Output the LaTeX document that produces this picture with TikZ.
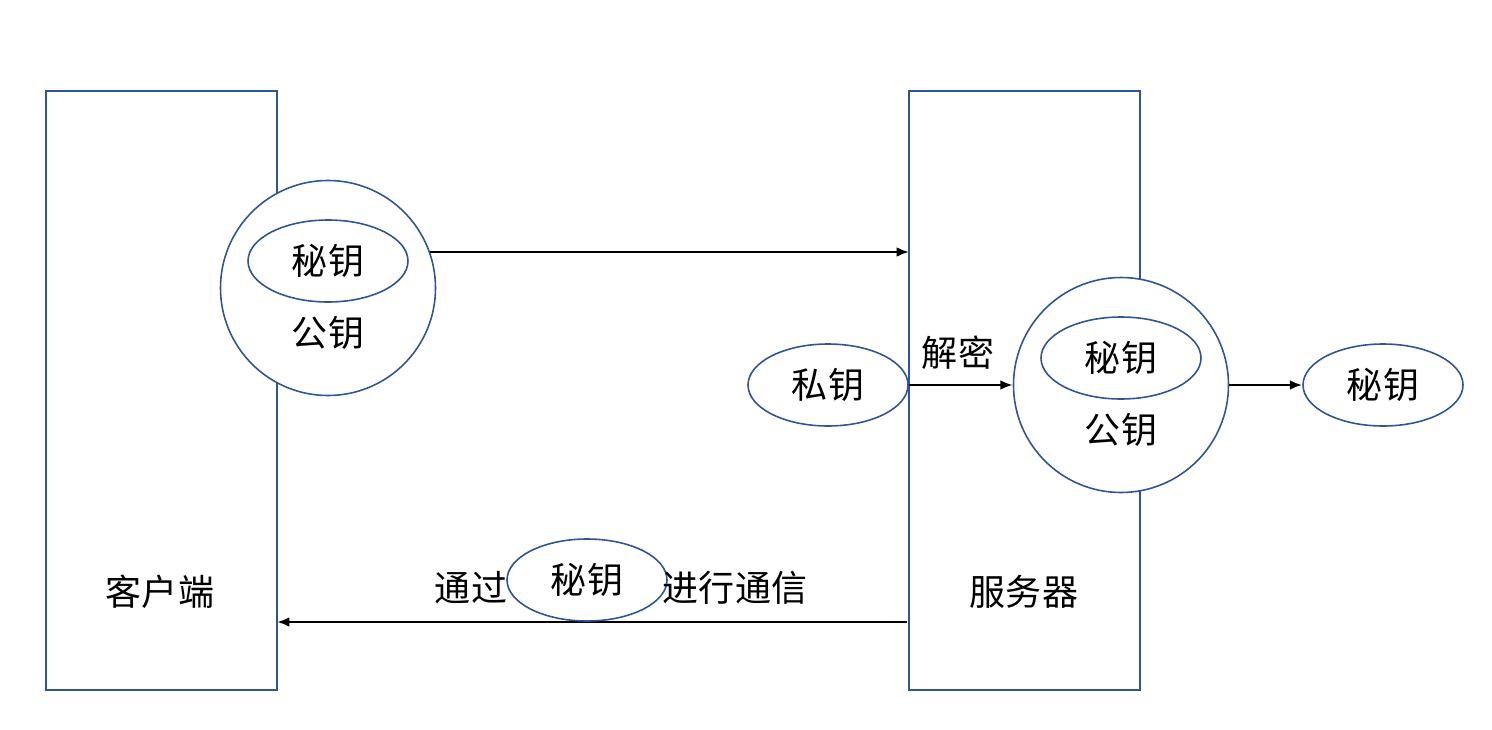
\documentclass[tikz,border=0pt]{standalone}
\usepackage{fontspec}
\newfontfamily\cjk{Noto Sans CJK SC}
\usetikzlibrary{shapes.geometric,arrows.meta}
\definecolor{bl}{HTML}{2F5597}
\begin{document}
\begin{tikzpicture}[x=0.02cm,y=-0.02cm,
  box/.style={draw=bl,line width=0.9pt,fill=white},
  el/.style={ellipse,draw=bl,line width=0.9pt,fill=white,minimum width=160*0.02cm,minimum height=82*0.02cm,inner sep=0pt},
  cir/.style={circle,draw=bl,line width=0.9pt,fill=white,minimum size=215*0.02cm,inner sep=0pt},
  txt/.style={font=\cjk\fontsize{20.5}{24}\selectfont},
  arr/.style={-{Latex[length=7pt,width=5.5pt]},line width=1.3pt}]
\useasboundingbox (0,0) rectangle (1492,730);
\draw[box] (46,91) rectangle (277,690);
\draw[box] (909,91) rectangle (1140,690);
\node[txt] (client) at (160,592) {客户端};
\node[txt] (server) at (1024,592) {服务器};
\node[cir] (c1) at (328,288) {};
\node[el,txt] (k1) at (328,261) {秘钥};
\node[txt] (p1) at (328,333) {公钥};
\coordinate (a1s) at (430,252);
\coordinate (a1e) at (909,252);
\draw[arr] (a1s) -- (a1e);
\node[el,txt] (priv) at (828,385) {私钥};
\coordinate (a2s) at (909,385);
\node[cir] (c2) at (1121,385) {};
\draw[arr] (a2s) -- (c2.west);
\node[txt] (dec) at (958,353) {解密};
\node[el,txt] (k2) at (1121,358) {秘钥};
\node[txt] (p2) at (1121,430) {公钥};
\node[el,txt] (k3) at (1383,385) {秘钥};
\draw[arr] (c2.east) -- (k3.west);
\coordinate (a3s) at (907,622);
\coordinate (a3e) at (277,622);
\draw[arr] (a3s) -- (a3e);
\node[txt] (t1) at (471,588) {通过};
\node[el,txt] (k4) at (587,580) {秘钥};
\node[txt] (t2) at (735,588) {进行通信};
\end{tikzpicture}
\end{document}
